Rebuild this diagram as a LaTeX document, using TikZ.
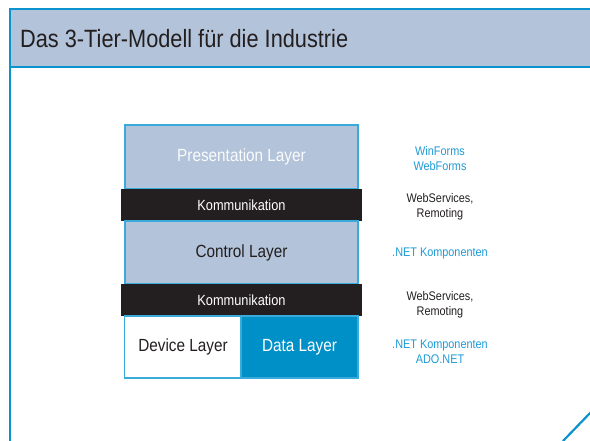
\documentclass[tikz,border=0pt]{standalone}
\usepackage{fontspec}
\setmainfont{Liberation Sans}[FakeStretch=0.87]
\definecolor{frameblue}{HTML}{0A93CF}
\definecolor{boxblue}{HTML}{3AAADD}
\definecolor{titlefill}{HTML}{B3C3D9}
\definecolor{layerfill}{HTML}{B3C3D9}
\definecolor{darkbar}{HTML}{231F20}
\definecolor{datafill}{HTML}{0090C8}
\definecolor{txtblue}{HTML}{1F9BD7}
\definecolor{txtdark}{HTML}{231F20}
\begin{document}
\begin{tikzpicture}[x=1pt,y=-1pt,
  layerbox/.style={draw=boxblue,line width=1.2pt,fill=layerfill,minimum width=233pt,inner sep=0pt,font=\fontsize{17.6}{20}\selectfont},
  commbar/.style={fill=darkbar,minimum width=241pt,minimum height=32pt,inner sep=0pt,text=white,font=\fontsize{14.7}{17}\selectfont},
  bottombox/.style={draw=boxblue,line width=1.2pt,minimum width=117pt,minimum height=62pt,inner sep=0pt,font=\fontsize{17.6}{20}\selectfont},
  sidetext/.style={align=center,font=\fontsize{12.5}{15}\selectfont,inner sep=0pt},
]
\useasboundingbox (0,0) rectangle (590,440);
\fill[white] (0,0) rectangle (590,440);
% title bar
\fill[titlefill] (10,9) rectangle (592,67);
\draw[frameblue,line width=2.5pt] (10,442) -- (10,9) -- (592,9);
\draw[frameblue,line width=2pt] (10,67) -- (592,67);
\node[anchor=base west,inner sep=0pt,text=txtdark,font=\fontsize{25}{30}\selectfont] (title) at (20,47) {Das 3-Tier-Modell für die Industrie};
% diagonal
\coordinate (d1) at (563,441);
\coordinate (d2) at (592,411);
\draw[frameblue,line width=2.2pt] (d1) -- (d2);
% layers
\node[layerbox,minimum height=64pt,text=white!93!titlefill] (pres) at (241.5,157) {Presentation Layer};
\node[commbar] (comm1) at (241.5,205) {Kommunikation};
\node[layerbox,minimum height=63pt,text=txtdark] (ctrl) at (241.5,252.5) {Control Layer};
\node[commbar] (comm2) at (241.5,300) {Kommunikation};
\node[bottombox,fill=white,text=txtdark] (dev) at (183,347) {Device Layer};
\node[bottombox,fill=datafill,text=white] (data) at (299.5,347) {Data Layer};
% side texts
\node[sidetext,text=txtblue] (s1) at (440,158.5) {WinForms\\WebForms};
\node[sidetext,text=txtdark] (s2) at (440,206.5) {WebServices,\\Remoting};
\node[sidetext,text=txtblue] (s3) at (440,253.5) {.NET Komponenten};
\node[sidetext,text=txtdark] (s4) at (440,304.5) {WebServices,\\Remoting};
\node[sidetext,text=txtblue] (s5) at (440,351.5) {.NET Komponenten\\ADO.NET};
\end{tikzpicture}
\end{document}
